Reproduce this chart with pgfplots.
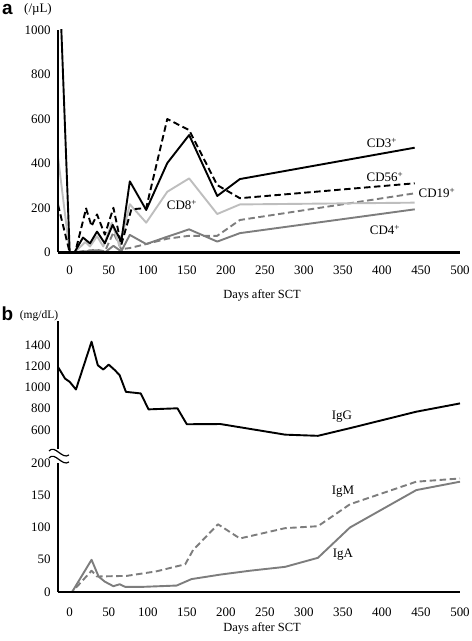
\documentclass[border=0pt]{standalone}
\usepackage{pgfplots}
\pgfplotsset{compat=1.18}
\usepackage{fontspec}
\setmainfont{Liberation Serif}
\newfontfamily\labsans{Liberation Sans}
\definecolor{lg}{RGB}{190,190,190}
\definecolor{mg}{RGB}{125,125,125}
\pgfplotsset{
  myax/.style={
    scale only axis, width=402bp, xmin=-15, xmax=500,
    axis on top,
    major tick length=0pt,
    /pgf/number format/assume math mode=true,
    /pgf/number format/1000 sep={},
    every axis plot/.append style={line width=1.9bp, line join=round},
  },
  noarr/.style={
    axis line style={line width=2.2bp, -},
    x axis line style={-}, y axis line style={-},
    yticklabel style={font=\fontsize{13}{15}\selectfont, xshift=-4bp},
  },
  dsh/.style={dash pattern=on 6.5bp off 3.5bp},
}
\begin{document}
\begin{tikzpicture}[x=1bp,y=1bp]
% ---------- panel a ----------
\begin{axis}[myax, at={(58bp,388.5bp)}, anchor=south west, height=222.5bp,
  ymin=0, ymax=1000, axis x line=bottom, axis y line=left,
  xtick={0,50,...,500}, ytick={0,200,...,1000},
  noarr,
  xticklabel style={font=\fontsize{13}{15}\selectfont, yshift=-10bp}]
% CD4+
\addplot[mg] coordinates {(-15,0)(6,0)(20,5)(35,10)(45,0)(56,30)(66,5)(77,79)(98,38)(125,71)(153,104)(189,49)(218,87)(442,194)};
% CD19+
\addplot[mg,dsh] coordinates {(-15,0)(6,0)(20,8)(35,12)(45,5)(56,90)(66,15)(77,20)(98,38)(125,62)(153,75)(189,75)(218,146)(442,266)};
% CD8+
\addplot[lg] coordinates {(-15,429)(0,0)(6,0)(20,47)(26,27)(35,73)(43,27)(54,133)(64,27)(77,217)(98,134)(125,273)(153,333)(189,173)(218,216)(442,224)};
% CD56+
\addplot[black,dsh] coordinates {(-15,215)(0,0)(7,0)(21,198)(28,118)(35,171)(45,80)(56,201)(66,34)(79,194)(98,200)(125,600)(153,550)(189,303)(218,244)(442,311)};
% CD3+
\addplot[black] coordinates {(-15,1400)(0,0)(6,0)(17,67)(26,41)(35,94)(45,41)(55,124)(66,49)(77,320)(98,191)(125,402)(153,528)(189,254)(218,330)(442,471)};
\end{axis}
% ---------- panel b upper ----------
\begin{axis}[myax, at={(58bp,192bp)}, anchor=south west, height=127.5bp,
  ymin=420, ymax=1620, axis x line=none, axis y line=left,
  ytick={600,800,...,1400}, noarr]
\addplot[black] coordinates {(-15,1192)(-6,1083)(0,1052)(8,980)(28,1430)(36,1208)(43,1168)(50,1214)(58,1161)(64,1114)(72,958)(91,943)(101,793)(138,803)(150,653)(193,655)(276,555)(318,544)(359,616)(444,771)(500,849)};
\end{axis}
% ---------- panel b lower ----------
\begin{axis}[myax, at={(58bp,49bp)}, anchor=south west, height=129bp,
  ymin=0, ymax=200, axis x line=bottom, axis y line=left,
  xtick={0,50,...,500}, ytick={0,50,...,200}, noarr,
  xticklabel style={font=\fontsize{13}{15}\selectfont, yshift=-12bp}]
% IgA
\addplot[mg] coordinates {(-15,0)(3,0)(28,50)(37,24)(45,16)(56,9)(64,12)(71,8)(94,8)(137,10)(156,20)(193,27)(231,33)(276,39)(318,53)(359,100)(444,158)(500,171)};
% IgM
\addplot[mg,dsh] coordinates {(-15,0)(3,0)(28,33)(35,24)(73,25)(111,32)(148,43)(158,65)(190,105)(218,83)(276,99)(318,102)(359,136)(444,171)(500,176)};
\end{axis}
% axis break marks
\draw[line width=1.2bp] (49,190) .. controls (55,197) and (62,181) .. (69,186);
\draw[line width=1.2bp] (49,183) .. controls (55,190) and (62,174) .. (69,179);
% texts
\node[inner sep=0] at (7.5,632) {\labsans\bfseries\fontsize{19}{20}\selectfont a};
\node[inner sep=0] at (38,632) {\fontsize{13}{15}\selectfont (/µL)};
\node[inner sep=0] at (7.5,327.7) {\labsans\bfseries\fontsize{19}{20}\selectfont b};
\node[inner sep=0] at (39,325.7) {\fontsize{11.5}{13}\selectfont (mg/dL)};
\node[inner sep=0] at (262,346) {\fontsize{12.5}{14}\selectfont Days after SCT};
\node[inner sep=0] at (262,13) {\fontsize{12.5}{14}\selectfont Days after SCT};
\begin{scope}[every node/.style={inner sep=0, font=\fontsize{13}{15}\selectfont}]
\node at (382,498) {CD3\textsuperscript{+}};
\node at (385,464) {CD56\textsuperscript{+}};
\node at (437,448) {CD19\textsuperscript{+}};
\node at (385,411) {CD4\textsuperscript{+}};
\node at (182,436) {CD8\textsuperscript{+}};
\node at (342,224.3) {IgG};
\node at (343,149.3) {IgM};
\node at (343,86) {IgA};
\end{scope}
\pgfresetboundingbox
\useasboundingbox (0,0) rectangle (472bp,641bp);
\end{tikzpicture}
\end{document}
